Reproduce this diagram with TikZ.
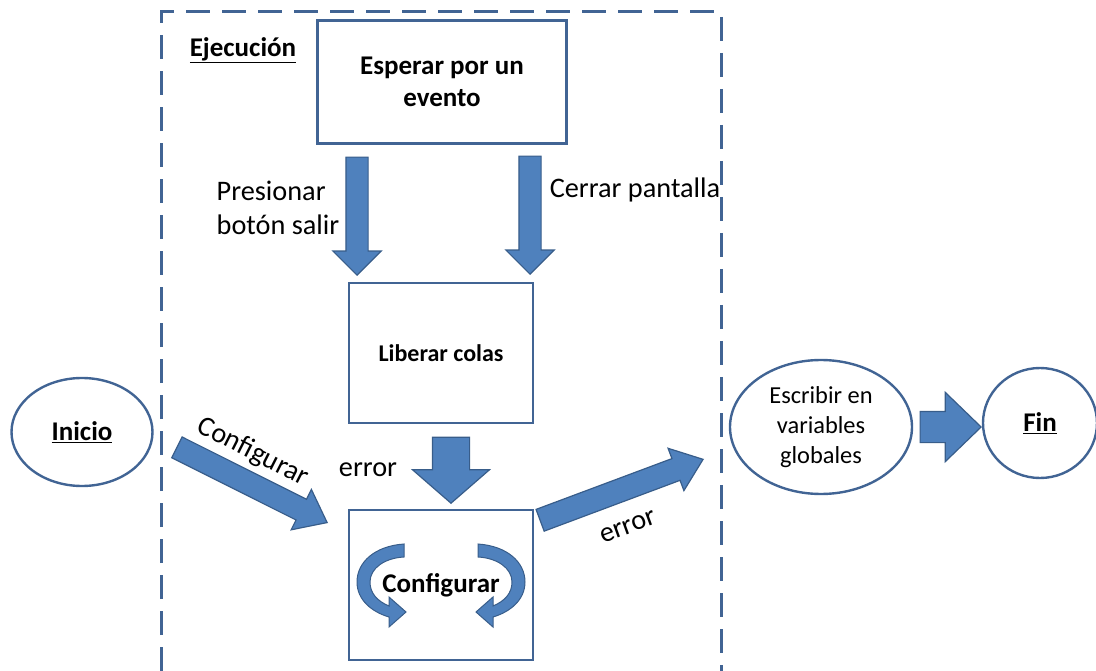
\documentclass[tikz,border=0pt]{standalone}
\usepackage{fontspec}
\setmainfont{Carlito}
\usetikzlibrary{shapes.arrows,shapes.geometric,positioning}
\definecolor{bloque}{RGB}{79,129,189}
\definecolor{borde}{RGB}{56,93,138}
\definecolor{marco}{RGB}{65,100,148}

\begin{document}
\begin{tikzpicture}[x=1pt,y=-1pt,
    caja/.style={draw=marco,line width=2.6pt,inner sep=0pt,align=center,font=\fontsize{24}{29}\selectfont\bfseries},
    ovalo/.style={ellipse,draw=marco,line width=2.4pt,inner sep=0pt,align=center,font=\fontsize{27}{32}\selectfont\bfseries},
    flecha/.style={single arrow,draw=borde,fill=bloque,line width=1.2pt,inner xsep=0pt,single arrow head indent=0pt,anchor=tip},
    etiqueta/.style={font=\fontsize{28.3}{34}\selectfont,align=left},
    curva/.style={draw=borde,fill=bloque,line width=1pt}
]
\useasboundingbox (0,0) rectangle (1096,671);
% marco de ejecucion
\draw[marco,line width=3pt,dash pattern=on 24pt off 12pt] (161,671) -- (161,12) -- (721,12) -- (721,671);
\node[font=\fontsize{27}{32}\selectfont\bfseries] (ejec) at (243,50) {\underline{Ejecución}};

% cajas
\node[caja,minimum width=249,minimum height=123,font=\fontsize{27}{32}\selectfont\bfseries] (esperar) at (442,82) {Esperar por un\\evento};
\node[caja,minimum width=184,minimum height=140] (liberar) at (441,353) {Liberar colas};
\draw[curva] (404,544) .. controls (375,546) and (357,562) .. (357,582) .. controls (357,600) and (372,612) .. (389,617) -- (389,627) -- (406,612) -- (389,597) -- (389,606) .. controls (377,601) and (370,593) .. (370,582) .. controls (370,568) and (385,558) .. (404,557) -- cycle;
\draw[curva] (478,544) .. controls (507,546) and (525,562) .. (525,582) .. controls (525,600) and (510,612) .. (493,617) -- (493,627) -- (476,612) -- (493,597) -- (493,606) .. controls (505,601) and (512,593) .. (512,582) .. controls (512,568) and (497,558) .. (478,557) -- cycle;
\node[caja,minimum width=184,minimum height=150,font=\fontsize{27}{32}\selectfont\bfseries] (config) at (441,585) {Configurar};

% inicio y fin
\node[ovalo,minimum width=141,minimum height=108] (inicio) at (82,432) {\underline{Inicio}};
\node[ovalo,minimum width=182,minimum height=134,font=\fontsize{24.4}{30}\selectfont] (escribir) at (821,427) {Escribir en\\variables\\globales};
\node[ovalo,minimum width=114,minimum height=110] (fin) at (1040,423) {\underline{Fin}};

% flechas (puntas)
\coordinate (puntasalir) at (357,276);
\coordinate (puntacerrar) at (530,275);
\coordinate (puntabajar) at (451,504);
\coordinate (puntaentrar) at (328,523);
\coordinate (puntasalida) at (704,459);
\coordinate (puntafin) at (982,427);
\node[flecha,minimum height=118,inner ysep=10.5pt,single arrow head extend=13,rotate=-90] (salir) at (puntasalir) {};
\node[flecha,minimum height=118,inner ysep=10.5pt,single arrow head extend=13,rotate=-90] (cerrar) at (puntacerrar) {};
\node[flecha,minimum height=66,inner ysep=18pt,single arrow head extend=20,single arrow tip angle=98,rotate=-90] (bajar) at (puntabajar) {};
\node[flecha,minimum height=168,inner ysep=11pt,single arrow head extend=11,single arrow tip angle=76,rotate=-26.6] (entrar) at (puntaentrar) {};
\node[flecha,minimum height=174,inner ysep=11pt,single arrow head extend=11,single arrow tip angle=76,rotate=20.5] (salida) at (puntasalida) {};
\node[flecha,minimum height=61,inner ysep=15pt,single arrow head extend=19,single arrow tip angle=88] (terminar) at (puntafin) {};

% etiquetas
\node[etiqueta] (lblsalir) at (278,208) {Presionar\\botón salir};
\node[etiqueta] (lblcerrar) at (635,190) {Cerrar pantalla};
\node[etiqueta] (lblerror) at (368,470) {error};
\node[etiqueta,rotate=-27] (lblconfig) at (253,452) {Configurar};
\node[etiqueta,rotate=20] (lblsalida) at (628,527) {error};
\end{tikzpicture}
\end{document}
